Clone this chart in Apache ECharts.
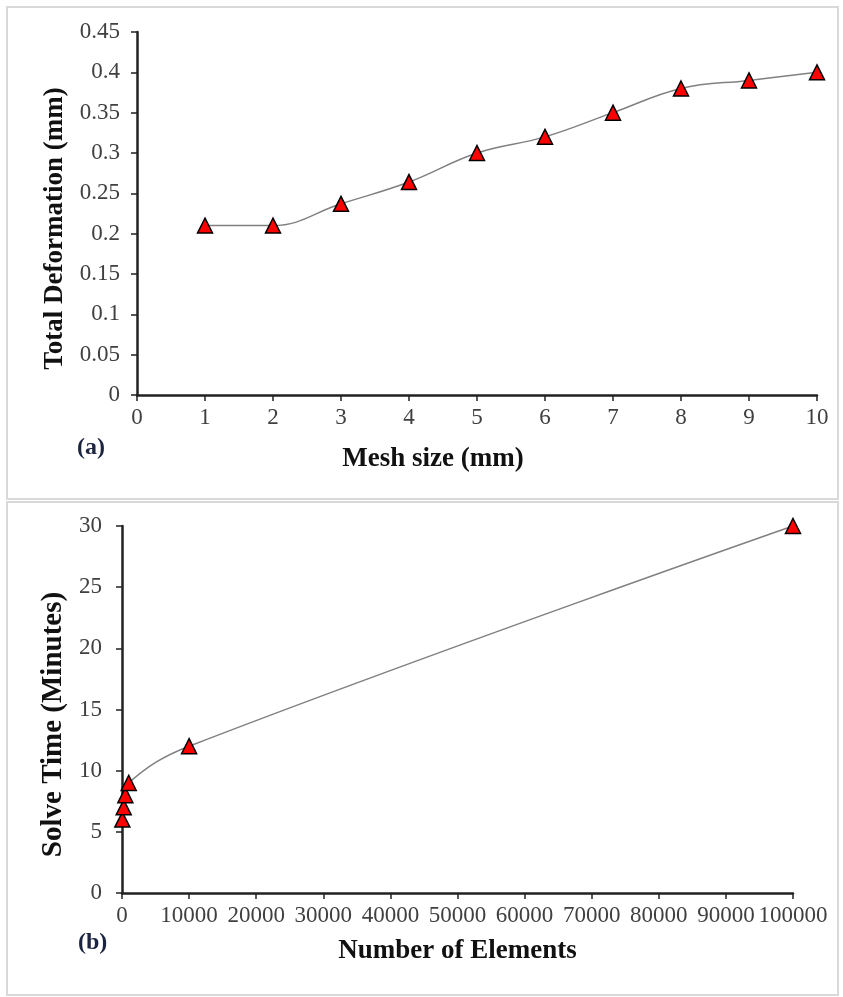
<!DOCTYPE html>
<html>
<head>
<meta charset="utf-8">
<script src="https://cdn.jsdelivr.net/npm/echarts@6/dist/echarts.min.js"></script>
<style>
  html, body { margin: 0; padding: 0; background: #fff; }
  #chart { width: 843px; height: 997px; }
</style>
</head>
<body>
<div id="chart"></div>
<script>
// (a) mesh convergence
var meshSize = [1, 2, 3, 4, 5, 6, 7, 8, 9, 10];
var deformation = [0.21, 0.21, 0.237, 0.264, 0.30, 0.32, 0.35, 0.38, 0.39, 0.40];

// (b) solve time
var elements = [50, 250, 500, 1000, 10000, 100000];
var solveTime = [6, 7, 8, 9, 12, 30];

var font = 'Liberation Serif';

function pairs(xs, ys) {
  return xs.map(function (x, i) { return [x, ys[i]]; });
}

function axisStyle(extra, labelMargin, namePad, nameSize) {
  var base = {
    axisLine: { show: true, onZero: false, lineStyle: { color: '#222', width: 2.5 } },
    axisTick: { show: true, inside: false, length: 6, lineStyle: { color: '#222', width: 1.5 } },
    axisLabel: { color: '#404040', fontFamily: font, fontSize: 23, margin: labelMargin },
    splitLine: { show: false },
    nameLocation: 'middle',
    nameTextStyle: { color: '#111', fontFamily: font, fontSize: nameSize || 27, fontWeight: 'bold',
      padding: namePad || 0 }
  };
  for (var k in extra) base[k] = extra[k];
  return base;
}

var seriesStyle = {
  type: 'line',
  smooth: 0.4,
  symbol: 'triangle',
  symbolSize: 15,
  lineStyle: { color: '#808080', width: 1.5 },
  itemStyle: { color: '#ff0000', borderColor: '#000', borderWidth: 1.5 },
  z: 3
};

var myChart = echarts.init(document.getElementById('chart'));

var option = {
  backgroundColor: '#fff',
  animation: false,
  graphic: [
    { type: 'rect', shape: { x: 7, y: 7, width: 831, height: 492 }, style: { fill: 'none', stroke: '#d9d9d9', lineWidth: 2 } },
    { type: 'rect', shape: { x: 7, y: 502, width: 831, height: 493 }, style: { fill: 'none', stroke: '#d9d9d9', lineWidth: 2 } },
    { type: 'text', left: 77, top: 436, style: { text: '(a)', fill: '#1c2540', font: 'bold 24px "Liberation Serif"' } },
    { type: 'text', left: 78, top: 931, style: { text: '(b)', fill: '#1c2540', font: 'bold 24px "Liberation Serif"' } }
  ],
  grid: [
    { left: 137, right: 26, top: 32, height: 363 },
    { left: 122, right: 50, top: 526, height: 367 }
  ],
  xAxis: [
    axisStyle({ gridIndex: 0, type: 'value', min: 0, max: 10, interval: 1,
      name: 'Mesh size (mm)', nameGap: 51 }, 11, [0, 88, 0, 0]),
    axisStyle({ gridIndex: 1, type: 'value', min: 0, max: 100000, interval: 10000,
      name: 'Number of Elements', nameGap: 45 }, 11)
  ],
  yAxis: [
    axisStyle({ gridIndex: 0, type: 'value', min: 0, max: 0.45, interval: 0.05,
      name: 'Total Deformation (mm)', nameGap: 66 }, 17, [0, 30, 0, 0]),
    axisStyle({ gridIndex: 1, type: 'value', min: 0, max: 30, interval: 5,
      name: 'Solve Time (Minutes)', nameGap: 50 }, 20, [0, 30, 0, 0], 29)
  ],
  series: [
    Object.assign({}, seriesStyle, { xAxisIndex: 0, yAxisIndex: 0, data: pairs(meshSize, deformation) }),
    Object.assign({}, seriesStyle, { xAxisIndex: 1, yAxisIndex: 1, data: pairs(elements, solveTime) })
  ]
};

// plain numbers on the element axis, no thousands separators
option.xAxis[1].axisLabel.formatter = function (v) { return String(v); };

myChart.setOption(option);
</script>
</body>
</html>
